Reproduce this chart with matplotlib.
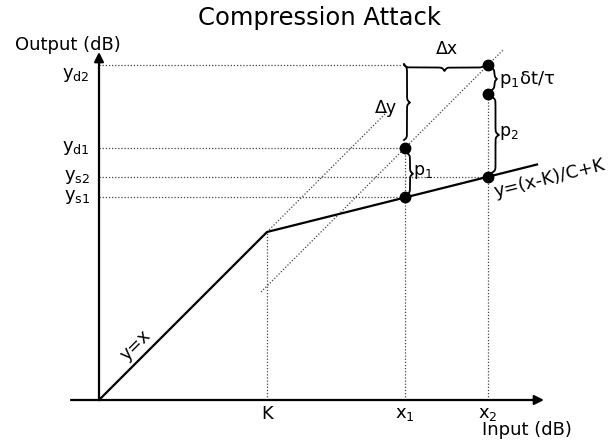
import numpy as np
import matplotlib
matplotlib.use("Agg")
import matplotlib.pyplot as plt

plt.rcParams['font.family'] = ['DejaVu Sans']

# Static compressor curve: y = x below the knee, y = (x-K)/C + K above it
K = 168.0
C = 4.0
x1 = 306.0
x2 = 389.0
x_end = 438.0
# attack trajectory: dB offset of the delayed (target) gain line
attack_offset = -54.0
p2_level = 306.0

x_ticks = [K, x1, x2]
x_tick_labels = ['K', r'$\mathregular{x_1}$', r'$\mathregular{x_2}$']


def static_curve(x):
    return np.where(x <= K, x, (x - K) / C + K)


ys1 = float(static_curve(x1))
ys2 = float(static_curve(x2))
yd1 = x1 + attack_offset
yd2 = x2 + attack_offset

y_ticks = [yd2, yd1, ys2, ys1]
y_tick_labels = [r'$\mathregular{y_{d2}}$', r'$\mathregular{y_{d1}}$',
                 r'$\mathregular{y_{s2}}$', r'$\mathregular{y_{s1}}$']

fig = plt.figure(figsize=(6.15, 4.44), dpi=100)
ax = fig.add_axes([0, 0, 1, 1])
ax.set_xlim(-99, 516)
ax.set_ylim(-44, 400)
ax.axis('off')

dot_kw = dict(color='#444444', lw=0.9, ls=(0, (1, 1.5)))

# axes with arrows
ax.annotate('', xy=(445, 0), xytext=(-28, 0),
            arrowprops=dict(arrowstyle='-|>', lw=1.6, color='black',
                            mutation_scale=14, shrinkA=0, shrinkB=0))
ax.annotate('', xy=(0, 348), xytext=(0, 0),
            arrowprops=dict(arrowstyle='-|>', lw=1.6, color='black',
                            mutation_scale=14, shrinkA=0, shrinkB=0))

# guide lines
ax.plot([0, x1], [ys1, ys1], **dot_kw)
ax.plot([0, x2], [ys2, ys2], **dot_kw)
ax.plot([0, x1], [yd1, yd1], **dot_kw)
ax.plot([0, x1 - 3], [yd2, yd2], **dot_kw)
ax.plot([K, K], [0, K], **dot_kw)
ax.plot([x1, x1], [0, yd1], **dot_kw)
ax.plot([x2, x2], [0, p2_level], **dot_kw)
# y = x continued past the knee
ax.plot([K, 288], [K, 288], **dot_kw)
# delayed target line
ax.plot([162, 405], [162 + attack_offset, 405 + attack_offset], **dot_kw)

# static curve
xs = np.array([0, K, x_end])
ax.plot(xs, static_curve(xs), color='black', lw=1.6, solid_joinstyle='miter')

# points
pts_x = [x1, x1, x2, x2, x2]
pts_y = [ys1, yd1, ys2, p2_level, yd2]
ax.plot(pts_x, pts_y, 'o', color='black', ms=7.5, zorder=5)


def curly_brace(ax, start, end, depth, beta=0.9, lw=1.3):
    start = np.asarray(start, float)
    end = np.asarray(end, float)
    d = end - start
    L = np.hypot(*d)
    u = d / L
    n = np.array([-u[1], u[0]])
    half = np.linspace(0, L / 2, 200)
    yh = (1 / (1 + np.exp(-beta * (half - half[0])))
          + 1 / (1 + np.exp(-beta * (half - half[-1]))) - 0.5)
    t = np.concatenate([half, L - half[::-1]])
    f = np.concatenate([yh, yh[::-1]]) * depth
    pts = start[None, :] + t[:, None] * u[None, :] + f[:, None] * n[None, :]
    ax.plot(pts[:, 0], pts[:, 1], color='black', lw=lw)


# braces
curly_brace(ax, (x2 - 3, yd2 + 1), (x1 - 1, yd2 + 1), 7)        # dx (tip up)
curly_brace(ax, (x1 - 1, yd2), (x1 - 1, yd1 + 8), 6)            # dy (tip left)
curly_brace(ax, (x1 + 2, ys1 + 3), (x1 + 2, yd1 - 5), -6)       # p1 (tip right)
curly_brace(ax, (x2 + 4, ys2 + 4), (x2 + 4, p2_level - 3), -7)  # p2
curly_brace(ax, (x2 + 4, p2_level + 4), (x2 + 4, yd2 - 3), -5)  # p1 dt/tau

fs = 12.5
ax.text(348, 351, 'Δx', fontsize=fs, ha='center', va='center')
ax.text(287, 292, 'Δy', fontsize=fs, ha='center', va='center')
ax.text(324, 228, r'$\mathregular{p_1}$', fontsize=fs, ha='center', va='center')
ax.text(410, 267, r'$\mathregular{p_2}$', fontsize=fs, ha='center', va='center')
ax.text(400, 320, r'$\mathregular{p_1}$δt/τ', fontsize=13, ha='left', va='center')

ax.text(451, 222, 'y=(x-K)/C+K', fontsize=13, ha='center', va='center',
        rotation=np.degrees(np.arctan(1 / C)), rotation_mode='anchor')
ax.text(37, 55, 'y=x', fontsize=fs, ha='center', va='center',
        rotation=45, rotation_mode='anchor')

for xv, lab in zip(x_ticks, x_tick_labels):
    ax.text(xv, -5, lab, fontsize=13, ha='center', va='top')
for yv, lab in zip(y_ticks, y_tick_labels):
    off = -10 if lab.endswith('{d2}}$') else 0
    ax.text(-9, yv + off, lab, fontsize=13, ha='right', va='center')

ax.text(428, -30, 'Input (dB)', fontsize=13, ha='center', va='center')
ax.text(-31, 355, 'Output (dB)', fontsize=13, ha='center', va='center')
ax.text(220, 382, 'Compression Attack', fontsize=17.5, ha='center', va='center')

fig.savefig('out.png', dpi=100)
